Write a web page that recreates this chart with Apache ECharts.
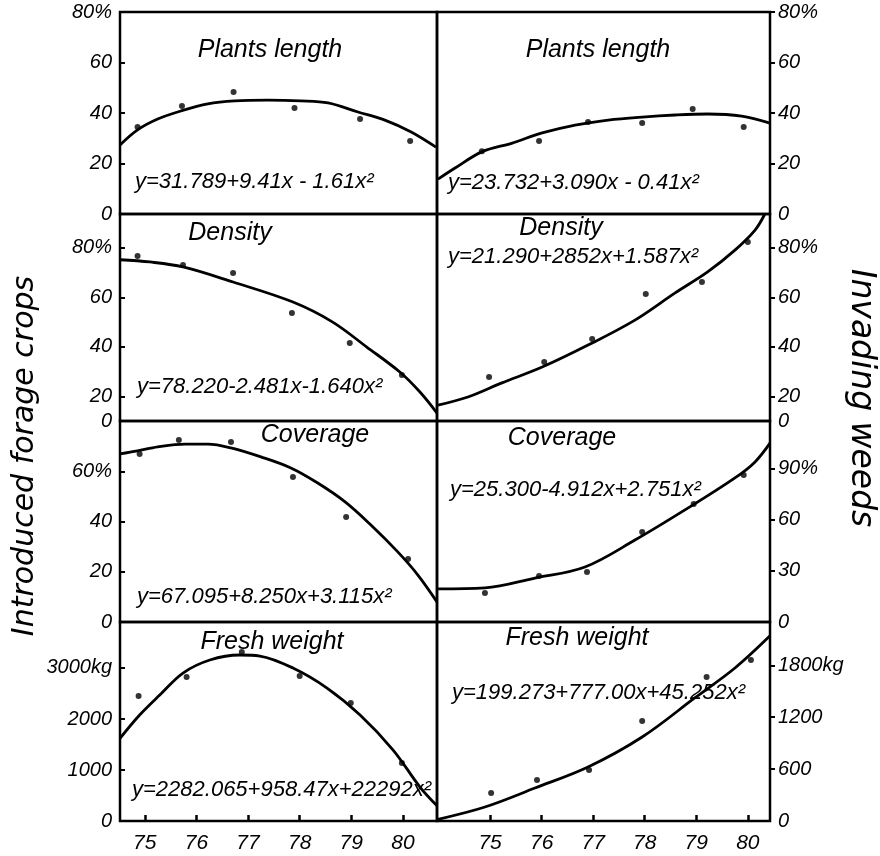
<!DOCTYPE html>
<html>
<head>
<meta charset="utf-8">
<script src="https://cdn.jsdelivr.net/npm/echarts@6/dist/echarts.min.js"></script>
<style>
  html, body { margin: 0; background: #fff; }
  #chart { width: 880px; height: 856px; }
</style>
</head>
<body>
<div id="chart"></div>
<script>
// years on the bottom axes
const yearTicks = [75, 76, 77, 78, 79, 80];

// y tick values / labels
const pctTicks = [0, 20, 40, 60, 80];
const pctLabels = ["0", "20", "40", "60", "80%"];
const denTicks = [10, 20, 40, 60, 80];
const denLabels = ["0", "20", "40", "60", "80%"];
const covLeftTicks = [0, 20, 40, 60];
const covLeftLabels = ["0", "20", "40", "60%"];
const covRightTicks = [0, 30, 60, 90];
const covRightLabels = ["0", "30", "60", "90%"];
const wLeftTicks = [0, 1000, 2000, 3000];
const wLeftLabels = ["0", "1000", "2000", "3000kg"];
const wRightTicks = [0, 600, 1200, 1800];
const wRightLabels = ["0", "600", "1200", "1800kg"];

// introduced forage crops (left column): observed points and fitted curve
const lenLeftPts = [[74.86, 34.5], [75.72, 42.8], [76.72, 48.3], [77.9, 42], [79.17, 37.6], [80.14, 28.9]];
const lenLeftFit = [[74.52, 27.3], [74.86, 33.3], [75.25, 37.6], [75.7, 40.8], [76.22, 43.6], [76.74, 44.8], [77.38, 45.1],
  [78.02, 44.8], [78.55, 44], [79.13, 40.4], [79.65, 37.2], [80.16, 32.5], [80.64, 26.5]];
const denLeftPts = [[74.86, 76.7], [75.74, 73.1], [76.71, 69.8], [77.85, 53.7], [78.97, 41.5], [79.98, 28.6]];
const denLeftFit = [[74.52, 75.2], [75.1, 74.3], [75.74, 72.3], [76.71, 66.2], [77.87, 58.1], [78.64, 50], [79.3, 39.9],
  [79.94, 29.8], [80.33, 21.7], [80.66, 13.2]];
const covLeftPts = [[74.9, 66.9], [75.66, 72.4], [76.67, 71.6], [77.87, 57.7], [78.9, 41.8], [80.1, 25.1]];
const covLeftFit = [[74.52, 66.9], [74.86, 68.1], [75.25, 69.7], [75.78, 70.8], [76.22, 70.8], [76.67, 69.3], [77.25, 65.7],
  [77.83, 61.3], [78.35, 55.3], [78.88, 47.8], [79.38, 38.6], [79.9, 27.9], [80.29, 18.7], [80.66, 8]];
const wLeftPts = [[74.88, 2450], [75.81, 2822], [76.88, 3312], [78.0, 2841], [78.99, 2312], [79.98, 1137]];
const wLeftFit = [[74.52, 1620], [74.9, 2077], [75.29, 2469], [75.74, 2900], [76.26, 3155], [76.84, 3253], [77.23, 3233],
  [77.87, 2998], [78.53, 2606], [79.17, 2077], [79.81, 1391], [80.33, 666], [80.66, 300]];

// invading weeds (right column)
const lenRightPts = [[74.84, 24.9], [75.95, 28.9], [76.9, 36.4], [77.95, 36], [78.93, 41.6], [79.92, 34.5]];
const lenRightFit = [[73.99, 13.8], [74.32, 18.2], [74.84, 24.6], [75.43, 28.1], [76.01, 32.1], [76.65, 35.2], [77.29, 37.2],
  [77.95, 38.4], [78.59, 39.2], [79.22, 39.6], [79.88, 38.8], [80.43, 36]];
const denRightPts = [[74.98, 27.8], [76.05, 33.9], [76.98, 43.2], [78.02, 61.4], [79.11, 66.2], [80.0, 82.4]];
const denRightFit = [[73.99, 16.4], [74.57, 19.7], [75.23, 25.4], [76.01, 31.8], [76.9, 40.7], [77.81, 50.8], [78.59, 61.8],
  [79.22, 70.3], [79.75, 79.1], [80.14, 87.2], [80.33, 93.7]];
const covRightPts = [[74.9, 17], [75.95, 27], [76.88, 29.4], [77.95, 52.8], [78.95, 69.3], [79.92, 86.3]];
const covRightFit = [[73.99, 19.4], [74.9, 20], [75.87, 25.8], [76.84, 32.3], [77.81, 48.1], [78.78, 65.8], [79.75, 84.6],
  [80.14, 94], [80.43, 105]];
const wRightPts = [[75.02, 324], [75.91, 474], [76.92, 589], [77.95, 1156], [79.2, 1664], [80.06, 1861]];
const wRightFit = [[73.99, 20], [74.9, 162], [75.87, 381], [76.9, 624], [77.95, 971], [78.97, 1422], [79.75, 1768], [80.43, 2140]];

const cols = [
  { left: 120, width: 317, xMin: 74.52, xMax: 80.66, side: "left" },
  { left: 437, width: 333, xMin: 73.97, xMax: 80.43, side: "right" },
];
const rows = [
  { top: 12, height: 202 },
  { top: 214, height: 207 },
  { top: 421, height: 201 },
  { top: 622, height: 199 },
];

const panels = [
  { col: 0, row: 0, title: "Plants length", tx: 270, ty: 50, eq: "y=31.789+9.41x - 1.61x²", ex: 135, ey: 182,
    yMin: 0, yMax: 80, ticks: pctTicks, labels: pctLabels, pts: lenLeftPts, fit: lenLeftFit },
  { col: 1, row: 0, title: "Plants length", tx: 598, ty: 50, eq: "y=23.732+3.090x - 0.41x²", ex: 448, ey: 183,
    yMin: 0, yMax: 80, ticks: pctTicks, labels: pctLabels, pts: lenRightPts, fit: lenRightFit },
  { col: 0, row: 1, title: "Density", tx: 230, ty: 233, eq: "y=78.220-2.481x-1.640x²", ex: 137, ey: 387,
    yMin: 10, yMax: 93.7, ticks: denTicks, labels: denLabels, pts: denLeftPts, fit: denLeftFit },
  { col: 1, row: 1, title: "Density", tx: 561, ty: 228, eq: "y=21.290+2852x+1.587x²", ex: 448, ey: 257,
    yMin: 10, yMax: 93.7, ticks: denTicks, labels: denLabels, pts: denRightPts, fit: denRightFit },
  { col: 0, row: 2, title: "Coverage", tx: 315, ty: 435, eq: "y=67.095+8.250x+3.115x²", ex: 137, ey: 597,
    yMin: 0, yMax: 80, ticks: covLeftTicks, labels: covLeftLabels, pts: covLeftPts, fit: covLeftFit },
  { col: 1, row: 2, title: "Coverage", tx: 562, ty: 438, eq: "y=25.300-4.912x+2.751x²", ex: 450, ey: 490,
    yMin: 0, yMax: 118, ticks: covRightTicks, labels: covRightLabels, pts: covRightPts, fit: covRightFit },
  { col: 0, row: 3, title: "Fresh weight", tx: 272, ty: 642, eq: "y=2282.065+958.47x+22292x²", ex: 132, ey: 790,
    yMin: 0, yMax: 3900, ticks: wLeftTicks, labels: wLeftLabels, pts: wLeftPts, fit: wLeftFit },
  { col: 1, row: 3, title: "Fresh weight", tx: 577, ty: 638, eq: "y=199.273+777.00x+45.252x²", ex: 452, ey: 693,
    yMin: 0, yMax: 2300, ticks: wRightTicks, labels: wRightLabels, pts: wRightPts, fit: wRightFit },
];

const FONT = '"Liberation Sans", "DejaVu Sans", sans-serif';

var chartDom = document.getElementById("chart");
var myChart = echarts.init(chartDom);
var option = {
  animation: false,
  backgroundColor: "#fff",
  grid: [],
  xAxis: [],
  yAxis: [],
  series: [],
  graphic: [],
};

panels.forEach((p, i) => {
  const c = cols[p.col];
  const r = rows[p.row];
  const bottomRow = p.row === 3;

  option.grid.push({
    left: c.left,
    top: r.top,
    width: c.width,
    height: r.height,
    show: true,
    borderColor: "#000",
    borderWidth: 2.5,
    backgroundColor: "transparent",
  });

  option.xAxis.push({
    type: "value",
    gridIndex: i,
    min: c.xMin,
    max: c.xMax,
    axisLine: { show: false },
    splitLine: { show: false },
    axisTick: {
      show: bottomRow,
      inside: true,
      length: 6,
      customValues: yearTicks,
      lineStyle: { color: "#000", width: 2.5 },
    },
    axisLabel: {
      show: bottomRow,
      customValues: yearTicks,
      margin: 12,
      color: "#000",
      fontFamily: FONT,
      fontStyle: "italic",
      fontSize: 21,
    },
  });

  option.yAxis.push({
    type: "value",
    gridIndex: i,
    position: c.side,
    min: p.yMin,
    max: p.yMax,
    axisLine: { show: false },
    splitLine: { show: false },
    axisTick: {
      show: true,
      inside: c.side === "left",
      length: 5,
      customValues: p.ticks.slice(1),
      lineStyle: { color: "#000", width: 2 },
    },
    axisLabel: {
      customValues: p.ticks,
      margin: 8,
      color: "#000",
      fontFamily: FONT,
      fontStyle: "italic",
      fontSize: 20,
      formatter: (v) => {
        const k = p.ticks.indexOf(v);
        return k >= 0 ? p.labels[k] : "";
      },
    },
  });

  // fitted curve
  option.series.push({
    type: "line",
    xAxisIndex: i,
    yAxisIndex: i,
    data: p.fit,
    smooth: 0.35,
    showSymbol: false,
    lineStyle: { color: "#000", width: 2.8 },
    silent: true,
  });
  // observed values
  option.series.push({
    type: "scatter",
    xAxisIndex: i,
    yAxisIndex: i,
    data: p.pts,
    symbolSize: 6,
    itemStyle: { color: "#000" },
  });

  option.graphic.push({
    type: "text",
    x: p.tx,
    y: p.ty,
    style: {
      text: p.title,
      fill: "#000",
      font: "italic 25px " + FONT,
      textAlign: "center",
      textVerticalAlign: "middle",
    },
  });
  option.graphic.push({
    type: "text",
    x: p.ex,
    y: p.ey,
    style: {
      text: p.eq,
      fill: "#000",
      font: "italic 22px " + FONT,
      textAlign: "left",
      textVerticalAlign: "middle",
    },
  });
});

// side captions
option.graphic.push({
  type: "text",
  x: 25,
  y: 456,
  rotation: Math.PI / 2,
  style: {
    text: "Introduced forage crops",
    fill: "#000",
    font: 'italic 30px "DejaVu Sans", sans-serif',
    textAlign: "center",
    textVerticalAlign: "middle",
  },
});
option.graphic.push({
  type: "text",
  x: 861,
  y: 398,
  rotation: -Math.PI / 2,
  style: {
    text: "Invading weeds",
    fill: "#000",
    font: 'italic 33px "DejaVu Sans", sans-serif',
    textAlign: "center",
    textVerticalAlign: "middle",
  },
});

option && myChart.setOption(option);
</script>
</body>
</html>
